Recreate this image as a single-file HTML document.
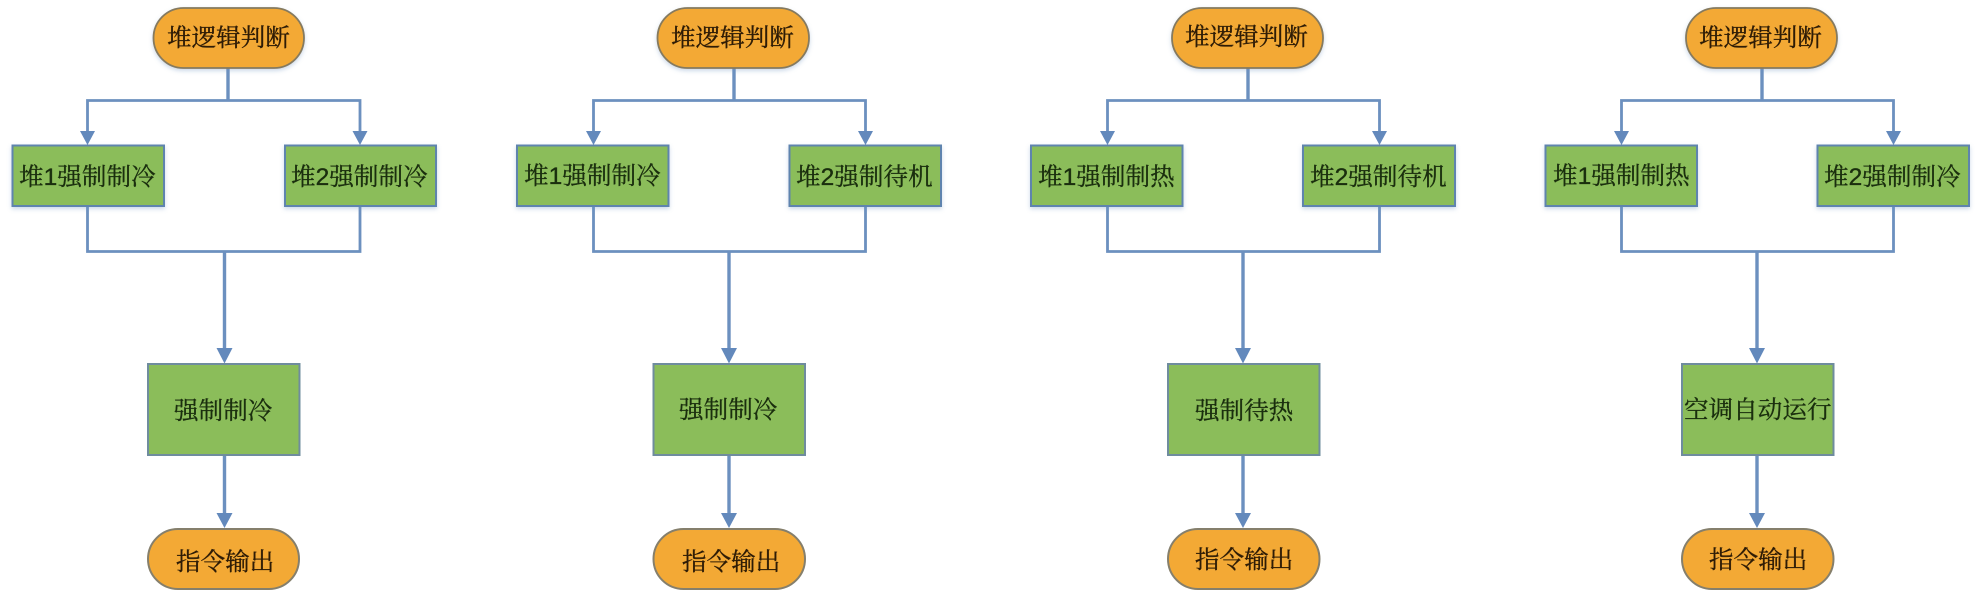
<!DOCTYPE html>
<html lang="zh">
<head>
<meta charset="utf-8">
<title>堆逻辑判断</title>
<style>
html,body{margin:0;padding:0;background:#fff;width:1975px;height:602px;overflow:hidden}
svg{display:block}
text{font-family:"Liberation Sans","Noto Serif CJK SC","Noto Sans CJK SC",sans-serif;font-size:24.5px;letter-spacing:.1px;stroke-width:.35px}
.o{fill:#F3A935;stroke:#857A5E;stroke-width:1.8;filter:url(#s)}
.g{fill:#8BBD5A;stroke:#5F84AE;stroke-width:2;filter:url(#s)}
.g2{fill:#8BBD5A;stroke:#6F8C9E;stroke-width:2}
.o2{fill:#F3A935;stroke:#857F6C;stroke-width:2}
.l{fill:none;stroke:#6C90BF;stroke-width:2.8}
.t{fill:none;stroke:#6C90BF;stroke-width:3.4}
.a{fill:#6389BC}
.to{fill:#2E1C06;stroke:#2E1C06}
.tg{fill:#1A2E0E;stroke:#1A2E0E}
</style>
</head>
<body>
<svg width="1975" height="602" viewBox="0 0 1975 602" xmlns="http://www.w3.org/2000/svg">
<defs>
<filter id="s" x="-10%" y="-15%" width="120%" height="135%"><feDropShadow dx="0" dy="2" stdDeviation="2" flood-color="#6C90BF" flood-opacity=".35"/></filter>
</defs>

<!-- Flow 1 -->
<path class="t" d="M228 68V100.5"/>
<path class="l" d="M87.500 132V100.500H360V132"/>
<path class="a" d="M80 131h15l-7.500 14zM352.500 131h15l-7.500 14z"/>
<path class="l" d="M87.500 206V251.500H360V206"/>
<path class="t" d="M224.500 251.500V349M224.500 455V514"/>
<path class="a" d="M216.500 348h16l-8 15.500zM216.500 513h16l-8 15z"/>
<rect class="o" x="153.500" y="8" width="150.500" height="60" rx="30"/>
<rect class="g" x="12.500" y="145.500" width="151.500" height="60.500"/>
<rect class="g" x="285" y="145.500" width="151" height="60.500"/>
<rect class="g2" x="148" y="364" width="151.500" height="91"/>
<rect class="o2" x="148" y="529" width="151" height="60" rx="30"/>
<text class="to" x="167" y="46">堆逻辑判断</text>
<text class="tg" x="19" y="185">堆1强制制冷</text>
<text class="tg" x="291" y="185">堆2强制制冷</text>
<text class="tg" x="174" y="419">强制制冷</text>
<text class="to" x="176" y="570">指令输出</text>

<!-- Flow 2 -->
<path class="t" d="M734 68V100.500"/>
<path class="l" d="M593.500 132V100.500H865.500V132"/>
<path class="a" d="M586 131h15l-7.500 14zM858 131h15l-7.500 14z"/>
<path class="l" d="M593.500 206V251.500H865.500V206"/>
<path class="t" d="M729 251.500V349M729 455V514"/>
<path class="a" d="M721 348h16l-8 15.500zM721 513h16l-8 15z"/>
<rect class="o" x="657.500" y="8" width="151.500" height="60" rx="30"/>
<rect class="g" x="517" y="145.500" width="151.500" height="60.500"/>
<rect class="g" x="789.500" y="145.500" width="151.500" height="60.500"/>
<rect class="g2" x="653.500" y="364" width="151.500" height="91"/>
<rect class="o2" x="653.500" y="529" width="151.500" height="60" rx="30"/>
<text class="to" x="671" y="46">堆逻辑判断</text>
<text class="tg" x="524" y="184">堆1强制制冷</text>
<text class="tg" x="796" y="185">堆2强制待机</text>
<text class="tg" x="679" y="418">强制制冷</text>
<text class="to" x="682" y="570">指令输出</text>

<!-- Flow 3 -->
<path class="t" d="M1248 68V100.500"/>
<path class="l" d="M1107.500 132V100.500H1379.500V132"/>
<path class="a" d="M1100 131h15l-7.500 14zM1372 131h15l-7.500 14z"/>
<path class="l" d="M1107.500 206V251.500H1379.500V206"/>
<path class="t" d="M1243 251.500V349M1243 455V514"/>
<path class="a" d="M1235 348h16l-8 15.500zM1235 513h16l-8 15z"/>
<rect class="o" x="1172" y="8" width="151" height="60" rx="30"/>
<rect class="g" x="1031" y="145.500" width="151.500" height="60.500"/>
<rect class="g" x="1303" y="145.500" width="152" height="60.500"/>
<rect class="g2" x="1168" y="364" width="151.500" height="91"/>
<rect class="o2" x="1168" y="529" width="151.500" height="60" rx="30"/>
<text class="to" x="1185" y="45">堆逻辑判断</text>
<text class="tg" x="1038" y="185">堆1强制制热</text>
<text class="tg" x="1310" y="185">堆2强制待机</text>
<text class="tg" x="1195" y="419">强制待热</text>
<text class="to" x="1195" y="568">指令输出</text>

<!-- Flow 4 -->
<path class="t" d="M1762 68V100.500"/>
<path class="l" d="M1621.500 132V100.500H1893.500V132"/>
<path class="a" d="M1614 131h15l-7.500 14zM1886 131h15l-7.500 14z"/>
<path class="l" d="M1621.500 206V251.500H1893.500V206"/>
<path class="t" d="M1757 251.500V349M1757 455V514"/>
<path class="a" d="M1749 348h16l-8 15.500zM1749 513h16l-8 15z"/>
<rect class="o" x="1686" y="8" width="151" height="60" rx="30"/>
<rect class="g" x="1545.500" y="145.500" width="151.500" height="60.500"/>
<rect class="g" x="1817.500" y="145.500" width="151.500" height="60.500"/>
<rect class="g2" x="1682" y="364" width="151.500" height="91"/>
<rect class="o2" x="1682" y="529" width="151.500" height="60" rx="30"/>
<text class="to" x="1699" y="46">堆逻辑判断</text>
<text class="tg" x="1553" y="184">堆1强制制热</text>
<text class="tg" x="1824" y="185">堆2强制制冷</text>
<text class="tg" x="1684" y="418">空调自动运行</text>
<text class="to" x="1709" y="568">指令输出</text>
</svg>
</body>
</html>
